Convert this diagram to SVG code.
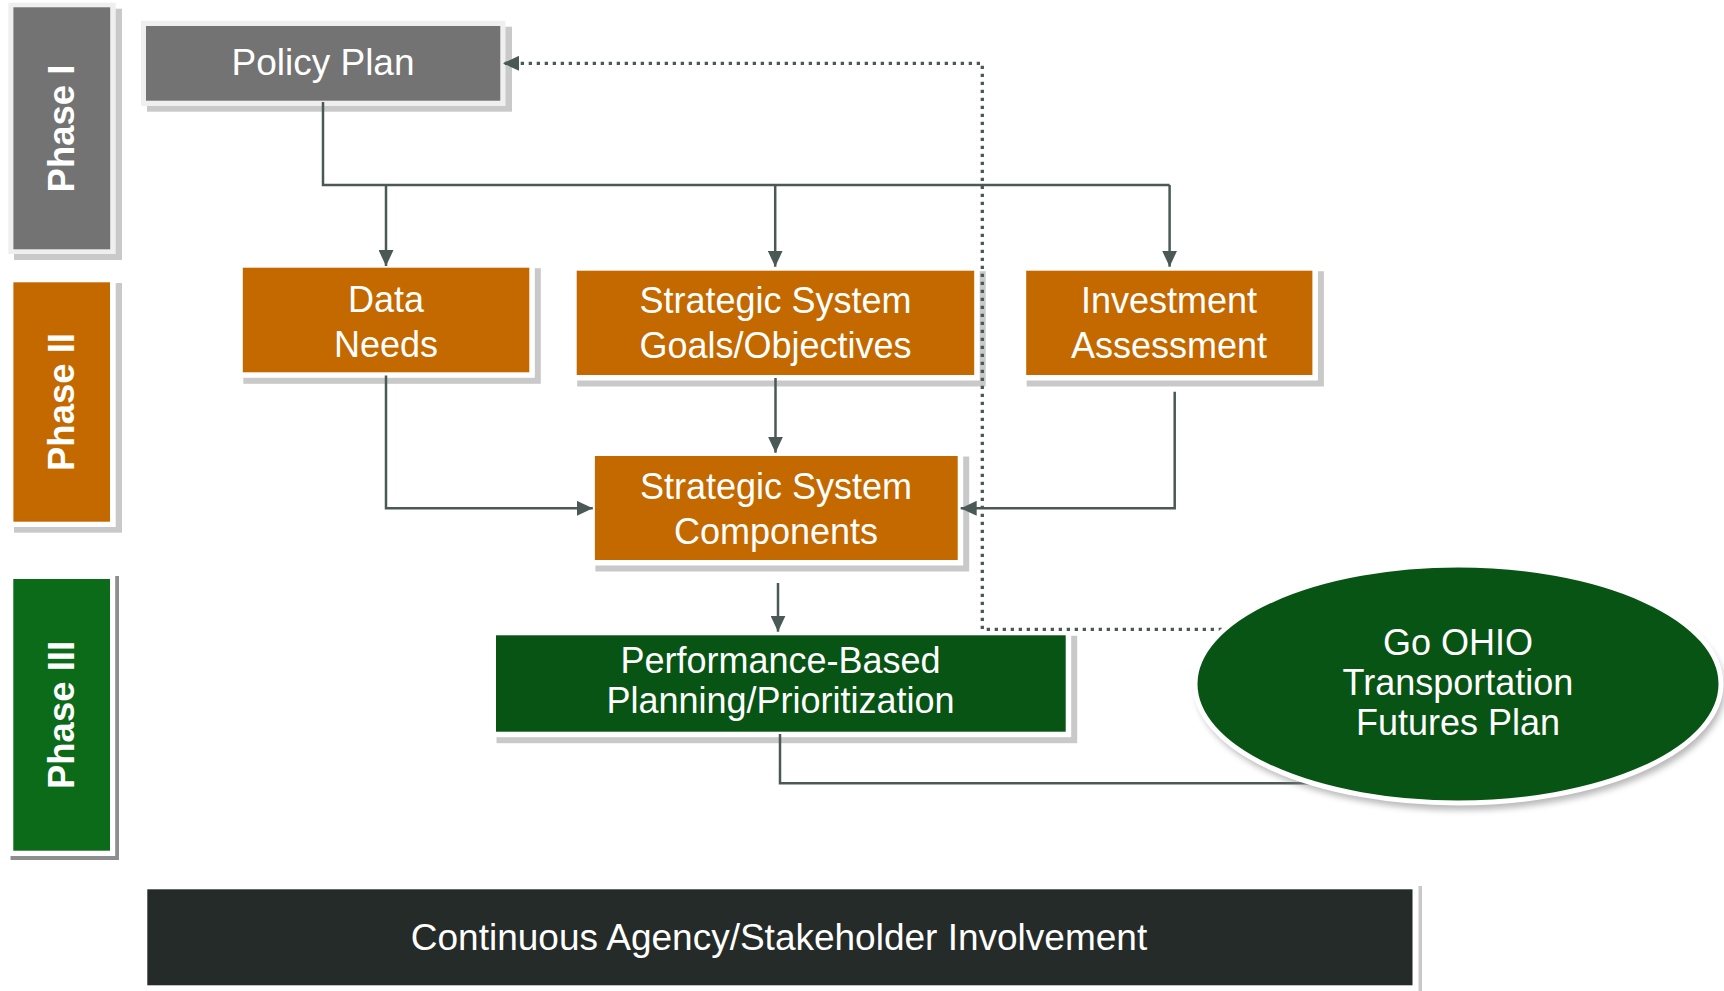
<svg xmlns="http://www.w3.org/2000/svg" width="1724" height="991" viewBox="0 0 1724 991">
<style>
  .lbl { font-family: "Liberation Sans", Arial, sans-serif; fill: #ffffff; text-anchor: middle; }
  .box { font-size: 36px; }
  .phase { font-size: 36.5px; font-weight: bold; }
  .shadow { fill: #c9c9c9; }
  .rim { fill: #ffffff; }
  .rimg { fill: #efefef; }
  .gray { fill: #737373; }
  .orange { fill: #c46900; }
  .green1 { fill: #0b6b19; }
  .green2 { fill: #075414; }
  .conn { fill: none; stroke: #4a5955; stroke-width: 2.5; }
  .dot { fill: none; stroke: #4a5955; stroke-width: 3.3; stroke-dasharray: 3.3 4.7; }
</style>
<defs>
  <marker id="arr" markerUnits="userSpaceOnUse" viewBox="0 0 16 15" refX="16" refY="7.5" markerWidth="16" markerHeight="15" orient="auto">
    <path d="M0,0 L16,7.5 L0,15 z" fill="#4a5955"/>
  </marker>
  <filter id="eshadow" x="-10%" y="-10%" width="125%" height="130%">
    <feGaussianBlur stdDeviation="3"/>
  </filter>
</defs>
<rect width="1724" height="991" fill="#ffffff"/>

<g id="phase1">
  <rect class="shadow" x="14" y="8.7" width="108" height="251.3"/>
  <rect class="rimg" x="8.3" y="2.7" width="107.4" height="251.3"/>
  <rect class="gray" x="13.4" y="7.3" width="96.8" height="242"/>
  <text class="lbl phase" transform="translate(74,128.5) rotate(-90)">Phase I</text>
</g>
<g id="phase2">
  <rect class="shadow" x="14" y="283" width="108" height="249.7"/>
  <rect class="rim" x="8.3" y="277" width="107.4" height="250"/>
  <rect class="orange" x="13.4" y="282.3" width="96.6" height="239.4"/>
  <text class="lbl phase" transform="translate(74,402) rotate(-90)">Phase II</text>
</g>
<g id="phase3">
  <rect fill="#8e8e8e" x="10.5" y="576" width="108.5" height="284"/>
  <rect class="rim" x="8.3" y="574" width="106.9" height="282"/>
  <rect class="green1" x="13.3" y="579" width="96.7" height="271.7"/>
  <text class="lbl phase" transform="translate(74,715) rotate(-90)">Phase III</text>
</g>

<g id="policy">
  <rect class="shadow" x="147" y="26.7" width="365" height="85"/>
  <rect class="rimg" x="141" y="20.7" width="364.5" height="85.3"/>
  <rect class="gray" x="146" y="26" width="354.3" height="74.7"/>
  <text class="lbl" x="323" y="75" font-size="37">Policy Plan</text>
</g>
<g id="data">
  <rect class="shadow" x="243.3" y="268.2" width="297.5" height="115.6"/>
  <rect class="rim" x="237.3" y="262.2" width="297.5" height="115.6"/>
  <rect class="orange" x="242.8" y="267.7" width="286.5" height="104.6"/>
  <text class="lbl box" x="386" y="311.7">Data</text>
  <text class="lbl box" x="386" y="356.7">Needs</text>
</g>
<g id="goals">
  <rect class="shadow" x="577.2" y="271.2" width="408.5" height="115.3"/>
  <rect class="rim" x="571.2" y="265.2" width="408.5" height="115.3"/>
  <rect class="orange" x="576.7" y="270.7" width="397.5" height="104.3"/>
  <text class="lbl box" x="775.5" y="313.3">Strategic System</text>
  <text class="lbl box" x="775.5" y="358.3">Goals/Objectives</text>
</g>
<g id="invest">
  <rect class="shadow" x="1026.7" y="271.2" width="297.2" height="115.3"/>
  <rect class="rim" x="1020.7" y="265.2" width="297.2" height="115.3"/>
  <rect class="orange" x="1026.2" y="270.7" width="286.2" height="104.3"/>
  <text class="lbl box" x="1169" y="313.3">Investment</text>
  <text class="lbl box" x="1169" y="358.3">Assessment</text>
</g>
<g id="components">
  <rect class="shadow" x="595.4" y="456.5" width="373.8" height="115"/>
  <rect class="rim" x="589.4" y="450.5" width="373.8" height="115"/>
  <rect class="orange" x="594.9" y="456" width="362.8" height="104"/>
  <text class="lbl box" x="776" y="499.3">Strategic System</text>
  <text class="lbl box" x="776" y="544">Components</text>
</g>
<g id="performance">
  <rect class="shadow" x="496.5" y="635.8" width="580.7" height="107.4"/>
  <rect class="rim" x="490.5" y="629.8" width="580.7" height="107.4"/>
  <rect class="green2" x="496" y="635.3" width="569.7" height="96.4"/>
  <text class="lbl box" x="780.5" y="672.7">Performance-Based</text>
  <text class="lbl box" x="780.5" y="713.3">Planning/Prioritization</text>
</g>
<g id="involvement">
  <rect fill="#c9c9c9" x="1418.5" y="886" width="3.5" height="105"/>
  <rect fill="#252b28" x="147.3" y="889.3" width="1265.2" height="96"/>
  <text class="lbl" x="779" y="950" font-size="37">Continuous Agency/Stakeholder Involvement</text>
</g>

<g id="connectors">
  <path class="conn" d="M323,102 V185 H1169.6"/>
  <path class="conn" d="M386,185 V266" marker-end="url(#arr)"/>
  <path class="conn" d="M775.2,185 V266.7" marker-end="url(#arr)"/>
  <path class="conn" d="M1169.6,185 V266.7" marker-end="url(#arr)"/>
  <path class="conn" d="M386,375.5 V508.3 H592.8" marker-end="url(#arr)"/>
  <path class="conn" d="M775.5,378 V452.7" marker-end="url(#arr)"/>
  <path class="conn" d="M1174.7,391.7 V508.3 H960.7" marker-end="url(#arr)"/>
  <path class="conn" d="M778,583 V631.7" marker-end="url(#arr)"/>
  <path class="conn" d="M780,734 V783.3 H1310"/>
  <path class="dot" d="M1230,629.3 H982.3 V63.3 H503" marker-end="url(#arr)"/>
</g>

<g id="goohio">
  <ellipse cx="1461" cy="690" rx="264" ry="120" fill="#8a8a8a" opacity="0.6" filter="url(#eshadow)"/>
  <ellipse cx="1458" cy="684" rx="263" ry="119" fill="#075414" stroke="#ffffff" stroke-width="5"/>
  <text class="lbl box" x="1458" y="655">Go OHIO</text>
  <text class="lbl box" x="1458" y="695">Transportation</text>
  <text class="lbl box" x="1458" y="735">Futures Plan</text>
</g>
</svg>
